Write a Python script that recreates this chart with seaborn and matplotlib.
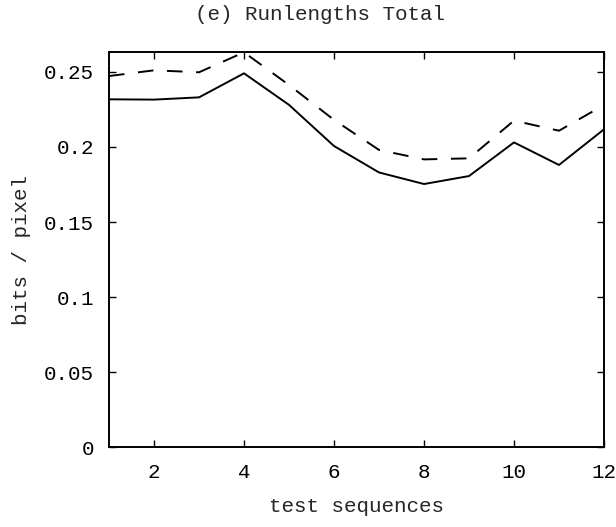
import matplotlib
matplotlib.use('Agg')
import matplotlib.pyplot as plt
import seaborn as sns
import pandas as pd

# 값은 그림에서 읽음
seq = [1, 2, 3, 4, 5, 6, 7, 8, 9, 10, 11, 12]
solid_vals = [0.2317, 0.2315, 0.233, 0.249, 0.228, 0.2006, 0.183, 0.1753, 0.1806, 0.203, 0.188, 0.2117]
dashed_vals = [0.2472, 0.251, 0.2497, 0.263, 0.2412, 0.218, 0.198, 0.1917, 0.1924, 0.2175, 0.2108, 0.2279]
x_ticks = [2, 4, 6, 8, 10, 12]
y_ticks = [0, 0.05, 0.1, 0.15, 0.2, 0.25]
y_tick_labels = ['0', '0.05', '0.1', '0.15', '0.2', '0.25']

df = pd.DataFrame({
    'seq': seq + seq,
    'bpp': solid_vals + dashed_vals,
    'series': ['a'] * len(seq) + ['b'] * len(seq),
})

sns.set_style('ticks')
plt.rcParams['font.family'] = ['Liberation Mono', 'DejaVu Sans Mono']

fig = plt.figure(figsize=(6.16, 5.27), dpi=100)
ax = fig.add_axes([0.177, 0.1512, 0.8035, 0.7507])

sns.lineplot(data=df, x='seq', y='bpp', style='series',
             dashes={'a': '', 'b': (8, 7)}, color='black',
             linewidth=1.4, legend=False, ax=ax)

ax.set_xlim(1, 12)
ax.set_ylim(0, 0.2634)
ax.set_xticks(x_ticks)
ax.set_yticks(y_ticks)
ax.set_yticklabels(y_tick_labels)
ax.tick_params(direction='in', length=5, width=1, top=True, right=True,
               labelsize=15, pad=11, colors='black')
for s in ax.spines.values():
    s.set_linewidth(1.4)
    s.set_color('black')

ax.set_xlabel('test sequences', fontsize=15, labelpad=11)
ax.set_ylabel('bits / pixel', fontsize=15, labelpad=9)
fig.text(0.52, 0.973, '(e) Runlengths Total', fontsize=15, ha='center', va='center')

fig.savefig('out.png', dpi=100)
